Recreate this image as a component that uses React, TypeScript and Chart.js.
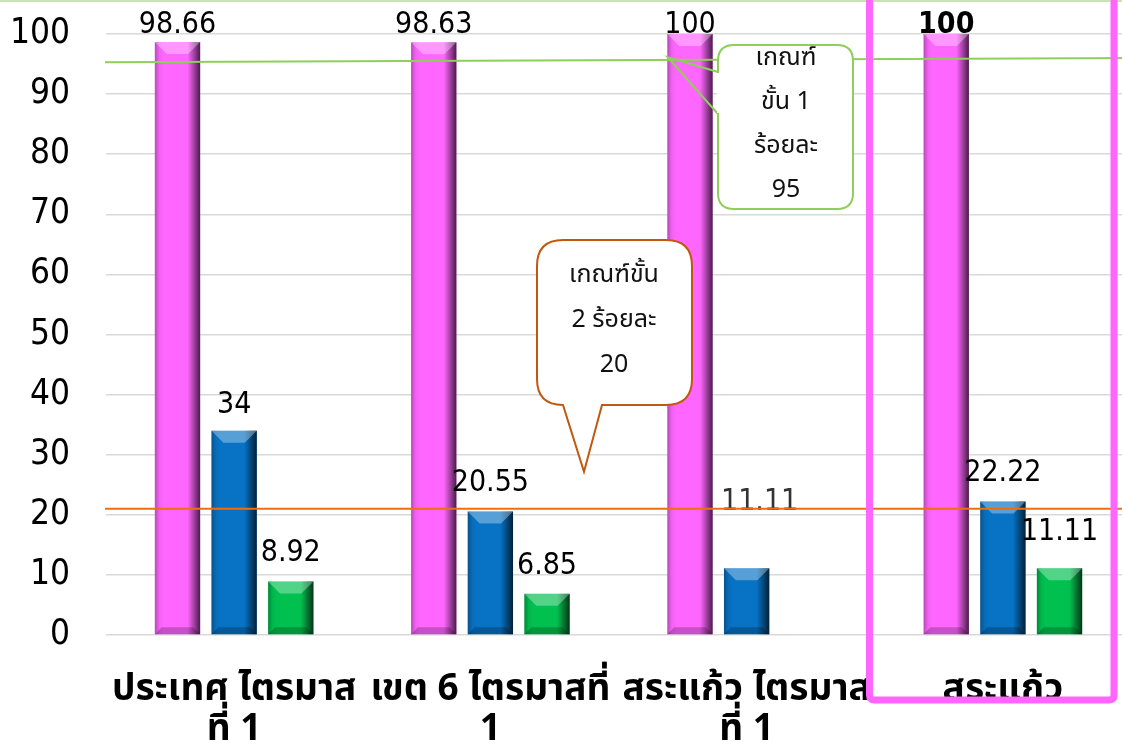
import { useEffect, useRef } from "react";
import { Chart, registerables } from "chart.js";

Chart.register(...registerables);

const categories: string[][] = [
  ["ประเทศ ไตรมาส", "ที่ 1"],
  ["เขต 6 ไตรมาสที่", "1"],
  ["สระแก้ว ไตรมาส", "ที่ 1"],
  ["สระแก้ว"],
];
const seriesStage0 = [98.66, 98.63, 100, 100];
const seriesStage1 = [34, 20.55, 11.11, 22.22];
const seriesStage2: (number | null)[] = [8.92, 6.85, null, 11.11];
const yMin = 0;
const yMax = 100;
const yStep = 10;
// criterion lines (the first one is slightly tilted in the original)
const criterion1Line = [95.3, 96.0];
const criterion2Line = [21, 21];
const callout1Text = ["เกณฑ์", "ขั้น 1", "ร้อยละ", "95"];
const callout2Text = ["เกณฑ์ขั้น", "2 ร้อยละ", "20"];

const NUM_FONT = '"DejaVu Sans Condensed", "DejaVu Sans", sans-serif';
const THAI_FONT = '"Noto Sans Thai", "Tahoma", "DejaVu Sans", sans-serif';

// label placement: gap (px) between bar top and text baseline, x shift, weight
const labelGap = [
  [9, 9, 1, 1],
  [18, 20, 58, 20],
  [20, 20, 0, 28],
];
const labelDx = [
  [0, 0, 0, 0],
  [0, 0, 13, 0],
  [0, 0, 0, 0],
];
const labelWeight = [
  ["normal", "normal", "normal", "bold"],
  ["normal", "normal", "300", "normal"],
  ["normal", "normal", "normal", "normal"],
];

function roundRectPath(ctx: CanvasRenderingContext2D, x: number, y: number, w: number, h: number, r: number) {
  ctx.beginPath();
  ctx.moveTo(x + r, y);
  ctx.lineTo(x + w - r, y);
  ctx.quadraticCurveTo(x + w, y, x + w, y + r);
  ctx.lineTo(x + w, y + h - r);
  ctx.quadraticCurveTo(x + w, y + h, x + w - r, y + h);
  ctx.lineTo(x + r, y + h);
  ctx.quadraticCurveTo(x, y + h, x, y + h - r);
  ctx.lineTo(x, y + r);
  ctx.quadraticCurveTo(x, y, x + r, y);
  ctx.closePath();
}

const decorPlugin = {
  id: "decor",
  afterDatasetsDraw(chart: any) {
    const ctx: CanvasRenderingContext2D = chart.ctx;
    ctx.save();
    chart.data.datasets.forEach((ds: any, di: number) => {
      const meta = chart.getDatasetMeta(di);
      meta.data.forEach((el: any, i: number) => {
        if (ds.data[i] == null) return;
        const { x, y, base, width } = el.getProps(["x", "y", "base", "width"], true);
        const L = x - width / 2;
        const R = x + width / 2;
        const T = y;
        const B = base;
        const h = B - T;
        const g = ctx.createLinearGradient(L, 0, R, 0);
        g.addColorStop(0, "rgba(0,0,0,0.28)");
        g.addColorStop(0.1, "rgba(0,0,0,0.05)");
        g.addColorStop(0.2, "rgba(0,0,0,0)");
        g.addColorStop(0.72, "rgba(0,0,0,0)");
        g.addColorStop(0.86, "rgba(0,0,0,0.35)");
        g.addColorStop(1, "rgba(0,0,0,0.72)");
        ctx.fillStyle = g;
        ctx.fillRect(L, T, width, h);
        const b = Math.min(12, h / 3);
        ctx.fillStyle = "rgba(255,255,255,0.32)";
        ctx.beginPath();
        ctx.moveTo(L, T);
        ctx.lineTo(R, T);
        ctx.lineTo(R - b, T + b);
        ctx.lineTo(L + b, T + b);
        ctx.closePath();
        ctx.fill();
        const bb = Math.min(7, h / 4);
        ctx.fillStyle = "rgba(0,0,0,0.22)";
        ctx.beginPath();
        ctx.moveTo(L, B);
        ctx.lineTo(R, B);
        ctx.lineTo(R - bb, B - bb);
        ctx.lineTo(L + bb, B - bb);
        ctx.closePath();
        ctx.fill();
      });
    });
    ctx.restore();
  },
  afterDraw(chart: any) {
    const ctx: CanvasRenderingContext2D = chart.ctx;
    const ys = chart.scales.y;
    const xs = chart.scales.x;
    const area = chart.chartArea;
    const W = chart.width;
    ctx.save();

    // top pale green border
    ctx.strokeStyle = "#c9e4b4";
    ctx.lineWidth = 2;
    ctx.beginPath();
    ctx.moveTo(0, 1);
    ctx.lineTo(W, 1);
    ctx.stroke();

    // value labels
    chart.data.datasets.forEach((ds: any, di: number) => {
      const meta = chart.getDatasetMeta(di);
      meta.data.forEach((el: any, i: number) => {
        const v = ds.data[i];
        if (v == null) return;
        const { x, y } = el.getProps(["x", "y"], true);
        ctx.font = `${labelWeight[di][i]} 30px ${NUM_FONT}`;
        ctx.fillStyle = di === 1 && i === 2 ? "#333" : "#000";
        ctx.textAlign = "center";
        ctx.textBaseline = "alphabetic";
        ctx.fillText(String(v), x + labelDx[di][i], y - labelGap[di][i]);
      });
    });

    // criterion lines
    ctx.lineWidth = 2;
    ctx.strokeStyle = "#8fce5a";
    ctx.beginPath();
    ctx.moveTo(area.left - 1, ys.getPixelForValue(criterion1Line[0]));
    ctx.lineTo(W, ys.getPixelForValue(criterion1Line[1]));
    ctx.stroke();
    ctx.strokeStyle = "#f26d0c";
    ctx.beginPath();
    ctx.moveTo(area.left - 1, ys.getPixelForValue(criterion2Line[0]));
    ctx.lineTo(W, ys.getPixelForValue(criterion2Line[1]));
    ctx.stroke();

    // callout 1 (green)
    const c1 = { x: 718, y: 45, w: 135, h: 164 };
    const tip1 = { x: xs.getPixelForValue(2) - 79, y: ys.getPixelForValue(criterion1Line[0]) - 5 };
    ctx.lineWidth = 2;
    ctx.strokeStyle = "#8fce5a";
    ctx.fillStyle = "#fff";
    roundRectPath(ctx, c1.x, c1.y, c1.w, c1.h, 16);
    ctx.fill();
    ctx.stroke();
    ctx.beginPath();
    ctx.moveTo(c1.x, 72);
    ctx.lineTo(tip1.x, tip1.y);
    ctx.lineTo(c1.x, 114);
    ctx.stroke();
    ctx.fillRect(c1.x - 1, 73, 3, 40);
    ctx.fillStyle = "#111";
    ctx.font = `25px ${THAI_FONT}`;
    ctx.textAlign = "center";
    ctx.textBaseline = "middle";
    callout1Text.forEach((t, k) => ctx.fillText(t, 786, 60 + k * 44));

    // callout 2 (brown-orange)
    const c2 = { x: 537, y: 240, w: 155, h: 165 };
    ctx.strokeStyle = "#c0580f";
    ctx.fillStyle = "#fff";
    ctx.beginPath();
    const r = 26;
    ctx.moveTo(c2.x + r, c2.y);
    ctx.lineTo(c2.x + c2.w - r, c2.y);
    ctx.quadraticCurveTo(c2.x + c2.w, c2.y, c2.x + c2.w, c2.y + r);
    ctx.lineTo(c2.x + c2.w, c2.y + c2.h - r);
    ctx.quadraticCurveTo(c2.x + c2.w, c2.y + c2.h, c2.x + c2.w - r, c2.y + c2.h);
    ctx.lineTo(602, c2.y + c2.h);
    ctx.lineTo(584, ys.getPixelForValue(criterion2Line[0]) - 37);
    ctx.lineTo(563, c2.y + c2.h);
    ctx.lineTo(c2.x + r, c2.y + c2.h);
    ctx.quadraticCurveTo(c2.x, c2.y + c2.h, c2.x, c2.y + c2.h - r);
    ctx.lineTo(c2.x, c2.y + r);
    ctx.quadraticCurveTo(c2.x, c2.y, c2.x + r, c2.y);
    ctx.closePath();
    ctx.fill();
    ctx.stroke();
    ctx.fillStyle = "#111";
    callout2Text.forEach((t, k) => ctx.fillText(t, 614, 277 + k * 45));

    // highlight rectangle around the last category
    ctx.strokeStyle = "#ff66ff";
    ctx.lineWidth = 7;
    roundRectPath(ctx, 869.5, -20, 244.5, 720, 5);
    ctx.stroke();

    ctx.restore();
  },
};

export default function App() {
  const ref = useRef<HTMLCanvasElement | null>(null);
  useEffect(() => {
    if (!ref.current) return;
    const chart = new Chart(ref.current, {
      type: "bar",
      data: {
        labels: categories,
        datasets: [
          { label: "s0", data: seriesStage0, backgroundColor: "#ff66ff", borderWidth: 0 },
          { label: "s1", data: seriesStage1, backgroundColor: "#0872c4", borderWidth: 0 },
          { label: "s2", data: seriesStage2, backgroundColor: "#00c050", borderWidth: 0 },
        ],
      },
      options: {
        responsive: false,
        animation: false,
        layout: { padding: { top: 34, right: 9, left: 0, bottom: 0 } },
        datasets: { bar: { categoryPercentage: 0.663, barPercentage: 0.8 } },
        plugins: { legend: { display: false }, tooltip: { enabled: false } },
        scales: {
          x: {
            grid: { display: false },
            border: { display: false },
            ticks: {
              autoSkip: false,
              maxRotation: 0,
              minRotation: 0,
              color: "#000",
              padding: 30,
              font: { family: THAI_FONT, size: 37, weight: "bold", lineHeight: 1.08 },
            },
            afterFit: (s: any) => {
              s.height = 113;
            },
          },
          y: {
            min: yMin,
            max: yMax,
            ticks: {
              stepSize: yStep,
              color: "#000",
              padding: 36,
              font: { family: NUM_FONT, size: 35 },
            },
            grid: { color: "#d9d9d9", lineWidth: 1.5, drawTicks: false },
            border: { display: false },
            afterFit: (s: any) => {
              s.width = 106;
              s.paddingTop = 0;
              s.paddingBottom = 0;
            },
          },
        },
      },
      plugins: [decorPlugin],
    });
    return () => chart.destroy();
  }, []);
  return (
    <div style={{ position: "fixed", left: 0, top: 0, width: 1122, height: 748, overflow: "hidden", background: "#fff" }}>
      <canvas ref={ref} width={1140} height={748} style={{ display: "block" }} />
    </div>
  );
}
